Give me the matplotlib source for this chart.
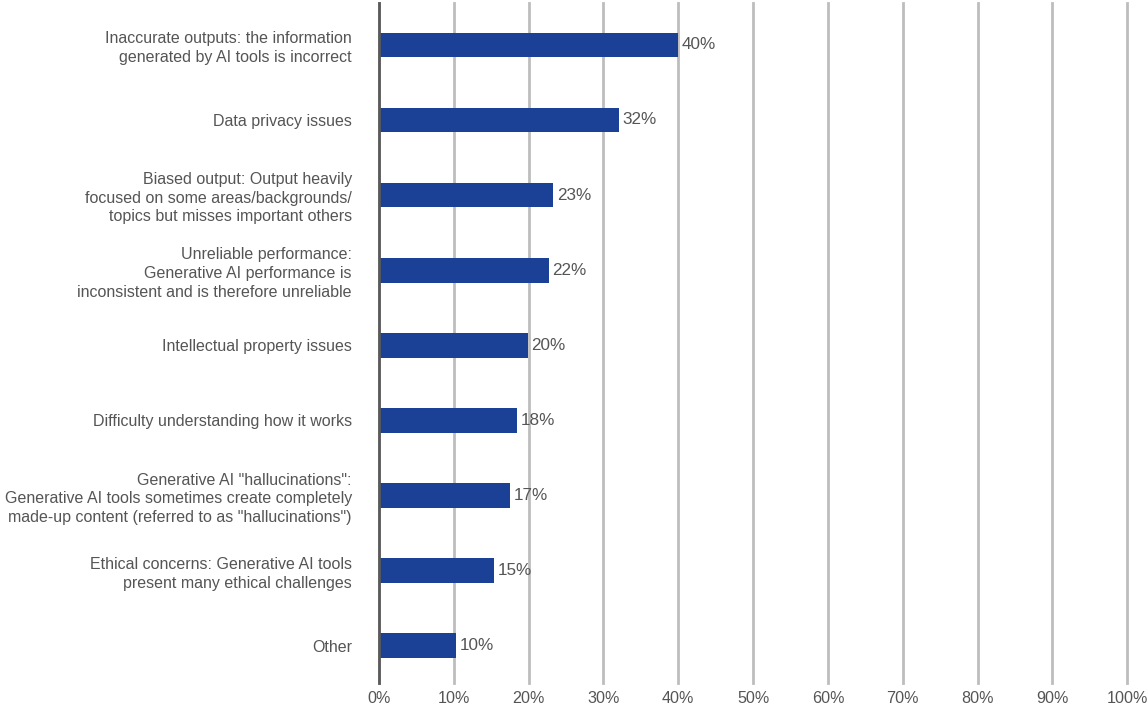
import matplotlib
matplotlib.use('Agg')
import matplotlib.pyplot as plt
import matplotlib.ticker as mticker

# categories, top to bottom
categories = [
    'Inaccurate outputs: the information\ngenerated by AI tools is incorrect',
    'Data privacy issues',
    'Biased output: Output heavily\nfocused on some areas/backgrounds/\ntopics but misses important others',
    'Unreliable performance:\nGenerative AI performance is\ninconsistent and is therefore unreliable',
    'Intellectual property issues',
    'Difficulty understanding how it works',
    'Generative AI "hallucinations":\nGenerative AI tools sometimes create completely\nmade-up content (referred to as "hallucinations")',
    'Ethical concerns: Generative AI tools\npresent many ethical challenges',
    'Other',
]
values = [40.0, 32.1, 23.3, 22.7, 19.9, 18.4, 17.5, 15.4, 10.3]
value_labels = ['40%', '32%', '23%', '22%', '20%', '18%', '17%', '15%', '10%']
xticks = [0, 10, 20, 30, 40, 50, 60, 70, 80, 90, 100]

plt.rcParams['font.family'] = ['Liberation Sans', 'DejaVu Sans']
txt = '#555555'

fig = plt.figure(figsize=(11.48, 7.13), dpi=100)
ax = fig.add_axes([0.330, 0.042, 0.652, 0.954])

ypos = list(range(len(categories)))
ax.barh(ypos, values, height=0.33, color='#1a4196', zorder=3)

for y, v, lab in zip(ypos, values, value_labels):
    ax.text(v + 0.5, y, lab, va='center', ha='left', fontsize=12.3, color=txt)

ax.set_xlim(0, 100)
ax.set_ylim(8.5, -0.56)
ax.set_xticks(xticks)
ax.xaxis.set_major_formatter(mticker.FuncFormatter(lambda x, p: '%d%%' % x))
ax.set_yticks(ypos)
ax.set_yticklabels(categories, fontsize=11.5, color=txt, linespacing=1.3)
ax.tick_params(axis='y', length=0, pad=19.5)
ax.tick_params(axis='x', length=0, pad=6, labelsize=11.6, labelcolor=txt)

ax.grid(axis='x', color='#bdbdbd', linewidth=2, zorder=0)
for gl in ax.get_xgridlines():
    gl.set_clip_on(False)
for s in ['top', 'right', 'bottom']:
    ax.spines[s].set_visible(False)
ax.spines['left'].set_color('#5a5a5a')
ax.spines['left'].set_linewidth(2)
ax.spines['left'].set_zorder(4)

fig.savefig('out.png', dpi=100)
